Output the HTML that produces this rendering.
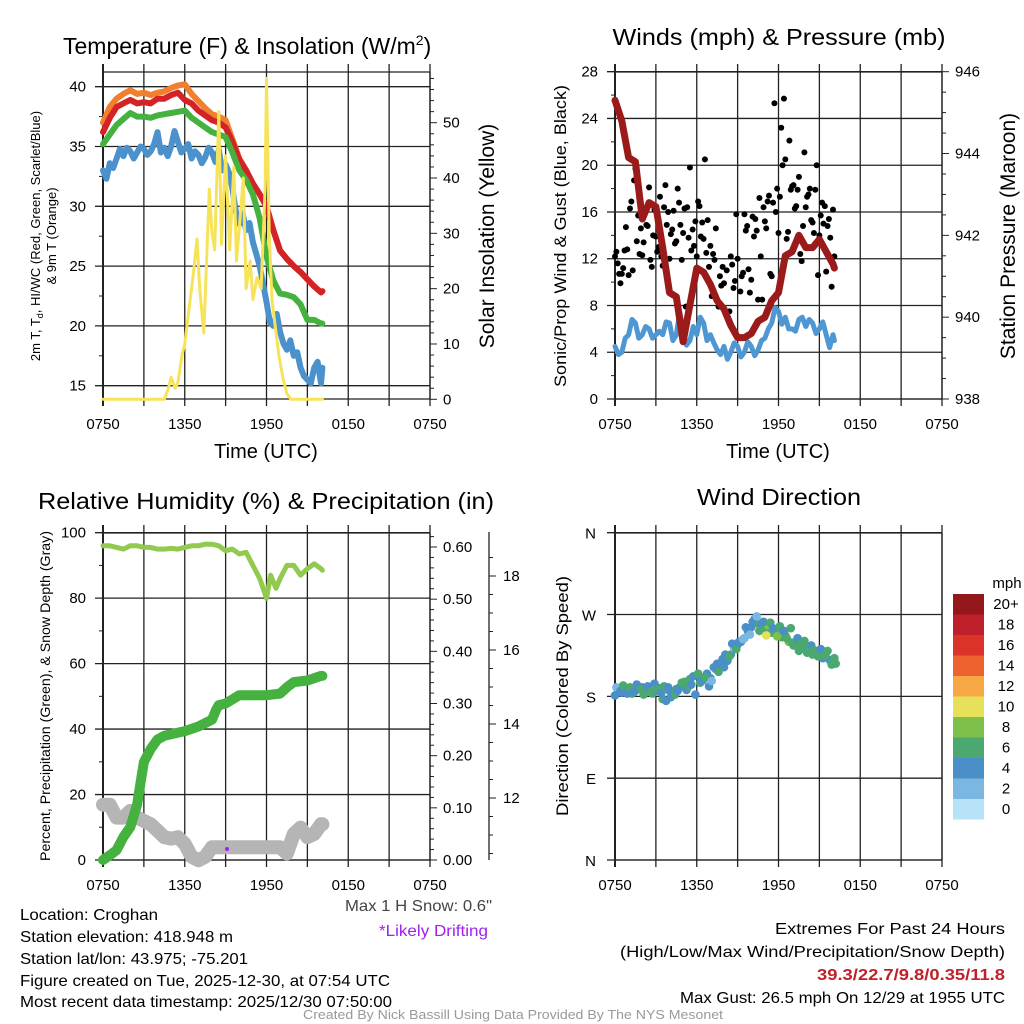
<!DOCTYPE html>
<html><head><meta charset="utf-8"><style>
html,body{margin:0;padding:0;background:#fff;}
svg{display:block;font-family:"Liberation Sans",Arial,sans-serif;}
</style></head><body>
<svg id="s" width="1024" height="1024" viewBox="0 0 1024 1024">
<rect width="1024" height="1024" fill="#fff"/>
</svg>
<script>
// ---------- DATA ----------
const xTickLabels = ['0750','1350','1950','0150','0750'];
// Temperature panel
const tempHours = [0,0.5,1,1.5,2,2.5,3,3.5,4,4.5,5,5.5,6,6.5,7,7.5,8,8.5,9,9.5,10,10.5,11,11.5,12,12.5,13,13.5,14,14.5,15,15.5,16,16.1];
const temp2m = [36.2,37.4,38.3,38.6,38.9,38.6,38.7,38.6,39.0,39.0,39.3,39.5,38.9,38.6,38.0,37.6,37.2,37.0,36.6,35.4,33.9,33.0,31.9,31.0,30.0,28.0,26.3,25.6,25.0,24.5,23.9,23.3,22.8,22.9];
const temp9m = [37.0,38.3,39.0,39.4,39.7,39.4,39.5,39.3,39.5,39.6,39.9,40.1,40.2,39.4,38.8,38.2,37.7,37.5,37.2,35.6,34.0,33.0,31.9,31.0,30.0,28.0,26.3,25.6,25.0,24.5,23.9,23.3,22.8,22.9];
const tempHiWc = [35.2,36.0,36.8,37.3,37.8,37.5,37.5,37.4,37.6,37.7,37.8,37.9,38.0,37.4,37.0,36.6,36.2,36.0,35.8,34.5,33.0,32.2,31.0,29.0,25.8,23.8,22.7,22.6,22.4,21.8,20.5,20.5,20.2,20.2];
const dewHours = [0,0.25,0.5,0.75,1,1.25,1.5,1.75,2,2.25,2.5,2.75,3,3.25,3.5,3.75,4,4.25,4.5,4.75,5,5.25,5.5,5.75,6,6.25,6.5,6.75,7,7.25,7.5,7.75,8,8.25,8.5,8.75,9,9.25,9.5,9.75,10,10.25,10.5,10.75,11,11.25,11.5,11.75,12,12.25,12.5,12.75,13,13.25,13.5,13.75,14,14.25,14.5,14.75,15,15.25,15.5,15.75,16,16.1];
const dewVals = [33.0,32.3,33.6,33.2,34.0,34.8,34.2,34.9,34.6,34.0,34.5,35.0,34.8,34.3,34.6,35.2,36.2,34.5,34.9,34.2,35.0,36.3,35.4,34.5,34.8,35.2,34.0,34.6,34.3,33.6,34.1,34.9,34.5,33.7,34.7,33.0,33.5,32.8,31.5,29.6,28.5,29.4,28.0,28.6,27.0,26.0,25.0,23.5,22.0,20.3,20.0,21.0,19.5,18.5,18.0,18.8,17.5,17.8,16.5,15.8,15.5,15.2,16.5,17.0,15.2,16.5];
const solarHours = [0,4.5,4.8,5.0,5.3,5.5,5.8,6.0,6.3,6.6,6.9,7.1,7.4,7.6,7.8,8.0,8.2,8.5,8.7,9.0,9.3,9.6,9.8,10.0,10.3,10.5,10.8,11.0,11.3,11.6,11.9,12.0,12.2,12.4,12.6,12.9,13.2,13.5,13.8,16.1];
const solarVals = [0,0,2,4,2,3,8,10,16,22,29,20,12,25,38,30,27,52,28,44,27,42,25,31,40,20,25,18,22,20,38,58,30,18,14,8,4,1,0,0];
// Wind panel
const windHours = [0,0.25,0.5,0.75,1,1.25,1.5,1.75,2,2.25,2.5,2.75,3,3.25,3.5,3.75,4,4.25,4.5,4.75,5,5.25,5.5,5.75,6,6.25,6.5,6.75,7,7.25,7.5,7.75,8,8.25,8.5,8.75,9,9.25,9.5,9.75,10,10.25,10.5,10.75,11,11.25,11.5,11.75,12,12.25,12.5,12.75,13,13.25,13.5,13.75,14,14.25,14.5,14.75,15,15.25,15.5,15.75,16,16.1];
const windSpeed = [4.5,3.8,4.0,5.2,5.5,6.8,6.5,5.2,5.5,6.2,6.0,5.2,5.5,5.8,5.5,6.6,6.5,5.0,5.5,7.4,6.0,4.6,5.0,6.2,5.5,7.0,6.5,5.0,5.5,4.8,4.2,3.8,4.5,3.4,4.0,4.8,4.5,3.6,4.0,4.9,4.5,3.7,4.2,5.0,5.2,6.0,6.5,7.8,7.5,6.4,7.0,6.0,6.0,5.8,6.8,7.0,6.2,6.8,6.5,5.6,6.0,6.6,5.5,4.4,5.5,5.0];
const pressHours = [0,0.5,1,1.5,2,2.5,3,3.5,4,4.5,5,5.5,6,6.5,7,7.5,8,8.5,9,9.5,10,10.5,11,11.5,12,12.5,13,13.5,14,14.5,15,15.5,16,16.1];
const pressVals = [945.3,944.8,943.9,943.8,942.4,942.8,942.7,941.7,940.6,940.5,939.4,940.3,941.2,941.1,940.8,940.4,940.2,939.8,939.5,939.5,939.6,939.9,940.0,940.4,940.6,941.5,941.6,942.0,941.7,941.7,941.9,941.6,941.3,941.2];
const gustHours = [0.0,0.1,0.2,0.3,0.4,0.5,0.6,0.7,0.8,0.9,1.0,1.1,1.2,1.3,1.4,1.5,1.6,1.7,1.8,1.9,2.0,2.1,2.2,2.3,2.4,2.5,2.6,2.7,2.8,2.9,3.0,3.1,3.2,3.3,3.4,3.5,3.6,3.7,3.8,3.9,4.0,4.1,4.2,4.3,4.4,4.5,4.6,4.7,4.8,4.9,5.0,5.1,5.2,5.3,5.4,5.5,5.6,5.7,5.8,5.9,6.0,6.1,6.2,6.3,6.4,6.5,6.6,6.7,6.8,6.9,7.0,7.1,7.2,7.3,7.4,7.5,7.6,7.7,7.8,7.9,8.0,8.2,8.4,8.5,8.6,8.7,8.8,8.9,9.0,9.2,9.3,9.4,9.5,9.6,9.7,9.8,9.9,10.0,10.1,10.2,10.3,10.4,10.5,10.6,10.7,10.8,10.9,11.0,11.1,11.2,11.3,11.4,11.5,11.6,11.7,11.8,11.9,12.0,12.1,12.2,12.3,12.4,12.5,12.6,12.7,12.8,12.9,13.0,13.1,13.2,13.3,13.4,13.5,13.6,13.7,13.8,13.9,14.0,14.1,14.2,14.3,14.4,14.5,14.6,14.7,14.8,14.9,15.0,15.1,15.2,15.3,15.4,15.5,15.6,15.7,15.8,15.9,16.0,16.1];
const gustVals = [12.2,12.6,11.6,10.7,9.9,10.7,11.2,12.7,14.7,12.8,10.6,16.3,16.9,11.0,18.7,19.7,13.5,15.7,12.4,14.6,12.3,13.4,16.3,14.9,14.8,18.1,11.9,11.3,14.0,16.2,13.9,12.6,13.0,17.3,12.2,11.4,16.4,18.3,14.9,16.0,12.0,14.1,14.5,16.1,13.3,13.5,18.0,16.8,14.9,11.9,14.2,16.3,7.9,16.4,13.8,19.8,12.7,14.5,13.1,15.2,12.2,16.9,16.5,13.9,15.1,13.7,20.5,12.5,15.3,11.3,13.1,8.8,12.4,11.9,14.6,8.5,7.9,10.5,9.7,11.3,9.9,11.0,7.5,12.2,11.5,9.5,10.1,15.8,12.0,9.2,10.5,10.8,15.8,14.4,14.8,11.1,9.1,10.2,15.6,13.9,15.4,14.4,8.5,17.2,12.2,8.5,16.4,15.2,14.6,16.9,17.4,10.7,10.5,16.8,25.3,16.0,18.0,14.2,17.3,23.2,20.0,25.7,20.5,13.7,14.3,22.1,17.9,18.2,18.3,16.3,16.5,17.9,19.0,12.4,11.8,14.8,21.1,16.4,17.3,17.5,18.0,15.3,15.1,14.2,17.9,20.0,10.6,14.0,15.7,16.8,15.0,16.5,10.9,14.8,15.4,13.8,9.6,16.2,12.2];
// RH / precip / snow panel
const rhHours = [0,0.5,1,1.5,2,2.5,3,3.5,4,4.5,5,5.5,6,6.5,7,7.5,8,8.5,9,9.5,10,10.5,11,11.5,12,12.3,12.7,13,13.5,14,14.5,15,15.5,16,16.1];
const rhVals = [96,96,95.5,95,96,96,95.5,95.5,95,95,95.2,95,95.5,96,96,96.5,96.5,96,94.5,95,93.5,94,90,86,80,87,83,86,90,90,87,89,90.5,89,88.5];
const precipHours = [0,0.5,1,1.5,2,2.5,2.8,3,3.5,4,4.5,5,6,7,8,8.3,8.5,9,10,11,12,13,13.5,14,15,16,16.1];
const precipVals = [0,0.009,0.019,0.044,0.063,0.106,0.156,0.188,0.213,0.231,0.238,0.241,0.247,0.256,0.269,0.288,0.297,0.300,0.316,0.316,0.316,0.319,0.331,0.341,0.344,0.353,0.353];
const snowHours = [0,0.5,1,1.5,2,2.5,3,3.5,4,4.5,5,5.5,6,6.5,7,7.5,8,9,10,11,12,13,13.5,14,14.5,15,15.5,16,16.1];
const snowVals = [11.82,11.82,11.47,11.47,11.65,11.47,11.38,11.29,11.12,10.94,10.90,10.94,10.76,10.41,10.32,10.41,10.67,10.67,10.67,10.67,10.67,10.67,10.50,11.03,11.20,10.94,11.03,11.29,11.29];
const driftHours = [9.1];
const driftVals = [10.62];
// Wind direction panel
const dirHours = [0,0.25,0.5,0.75,1,1.25,1.5,1.75,2,2.25,2.5,2.75,3,3.25,3.5,3.75,4,4.25,4.5,4.75,5,5.25,5.5,5.75,6,6.25,6.5,6.75,7,7.25,7.5,7.75,8,8.25,8.5,8.75,9,9.25,9.5,9.75,10,10.25,10.5,10.75,11,11.25,11.5,11.75,12,12.25,12.5,12.75,13,13.25,13.5,13.75,14,14.25,14.5,14.75,15,15.25,15.5,15.75,16,16.2,
 0.1,0.4,0.6,0.9,1.1,1.4,1.6,1.9,2.1,2.4,2.6,2.9,3.1,3.4,3.6,3.9,4.1,4.4,4.6,4.9,5.1,5.4,5.6,5.9,6.1,6.4,6.6,6.9,7.1,7.4,7.6,7.9,8.1,8.4,8.6,8.9,9.1,9.4,9.6,9.9,10.1,10.4,10.6,10.9,11.1,11.4,11.6,11.9,12.1,12.4,12.6,12.9,13.1,13.4,13.6,13.9,14.1,14.4,14.6,14.9,15.1,15.4,15.6,15.9,16.1];
const dirVals = [181,185,184,187,188,183,186,189,190,186,187,183,186,189,177,175,186,184,188,190,194,187,199,202,203,195,199,205,200,212,216,214,212,219,226,233,237,240,244,252,256,265,260,258,255,258,250,253,250,245,247,240,239,236,230,234,233,230,226,229,227,222,228,220,218,216,
 190,186,192,183,190,185,193,188,182,191,185,194,188,184,191,190,179,182,186,195,196,191,193,182,205,197,201,191,197,210,207,221,226,224,238,232,240,243,256,248,262,268,252,262,247,261,255,246,257,252,244,255,236,244,238,241,228,236,231,224,232,225,230,215,222];
const dirSpeed = [4.5,4.2,5.5,6.5,5.5,6.2,5.6,6.5,4.8,6.1,5.4,6.3,4.6,5.2,6.4,4.4,5.5,4.7,6.6,5.8,7.2,5.6,6.3,5.3,4.5,6.8,6.1,4.7,5.3,4.5,4.3,4.8,4.2,4.6,4.4,3.8,4.1,4.5,3.5,4.4,5.1,4.8,6.2,4.6,6.5,9.5,7.2,6.4,6.8,7.5,6.3,8.2,6.2,6.8,6.5,7.1,6.2,6.9,6.4,6.1,6.7,4.5,6.3,4.9,6.6,6.2,
 3.5,5.2,6.3,4.6,6.6,5.3,4.4,6.5,6.1,4.8,6.2,4.3,6.7,4.5,6.4,5.5,4.9,6.2,5.1,6.6,7.5,6.1,4.6,4.4,6.3,4.8,6.5,4.2,3.5,4.7,6.6,4.4,4.5,6.2,4.1,6.5,4.7,3.3,4.5,2.5,4.4,3.1,6.7,4.5,10.2,6.6,4.9,8.5,6.3,4.6,6.5,6.4,7.1,4.6,6.8,6.3,6.5,4.4,6.9,6.2,4.5,6.4,6.6,6.3,6.7];
const speedBinLabels = ['20+','18','16','14','12','10','8','6','4','2','0'];
const speedBinColors = ['#94171b','#bf1e2b','#dc3328','#ee6230','#f5a843','#e6e05a','#7dc04a','#4aa870','#4a8fc7','#7ab8e2','#b6e3f7'];
const dirTickLabels = ['N','E','S','W','N'];

// ---------- HELPERS ----------
const NS='http://www.w3.org/2000/svg';
const svg=document.getElementById('s');
function mk(tag, attrs, parent, name){
  const el=document.createElementNS(NS,tag);
  for(const k in attrs) el.setAttribute(k,attrs[k]);
  
  
  (parent||svg).appendChild(el);
  return el;
}
function txt(s,x,y,size,anchor,parent,name,extra){
  const a=Object.assign({x:x,y:y,'font-size':size,'text-anchor':anchor||'middle',fill:'#000'},extra||{});
  if(a.textLength) a.lengthAdjust='spacingAndGlyphs';
  const t=mk('text',a,parent,name);
  t.textContent=s;
  return t;
}
function grp(name){return mk('g',{},svg,name);}
function scale(d0,d1,r0,r1){return v=>r0+(v-d0)/(d1-d0)*(r1-r0);}
function path(xs,ys,sx,sy,attrs,parent,name){
  let d='';
  for(let i=0;i<xs.length;i++){d+=(i?'L':'M')+sx(xs[i]).toFixed(1)+','+sy(ys[i]).toFixed(1);}
  return mk('path',Object.assign({d:d,fill:'none','stroke-linejoin':'round','stroke-linecap':'round'},attrs),parent,name);
}
function timePanel(x0,y0,x1,y1,g,hy){
  for(let i=0;i<=8;i++){
    const x=x0+(x1-x0)*i/8;
    mk('line',{x1:x,y1:y0-8,x2:x,y2:y1+7,stroke:'#222','stroke-width':i==0?2:1.3},g,'time-gridline');
  }
  hy.forEach(y=>{mk('line',{x1:x0-8,y1:y,x2:x1,y2:y,stroke:'#222','stroke-width':1.3},g,'value-gridline');});
  mk('line',{x1:x0,y1:y0,x2:x1,y2:y0,stroke:'#222','stroke-width':1.3},g,'plot-top-border');
  mk('line',{x1:x0,y1:y1,x2:x1,y2:y1,stroke:'#222','stroke-width':1.3},g,'plot-bottom-border');
  mk('line',{x1:x1,y1:y0,x2:x1,y2:y1,stroke:'#222','stroke-width':1.3},g,'plot-right-border');
  for(let i=0;i<xTickLabels.length;i++){
    txt(xTickLabels[i],x0+(x1-x0)*i/4,y1+30,15,'middle',g,'x-tick-label');
  }
}
function rightAxis(x,sy,d0,d1,minorStep,majorStep,fmt,g,lblX){
  for(let v=d0; v<=d1+1e-9; v+=minorStep){
    const major=Math.abs(v/majorStep-Math.round(v/majorStep))<1e-6;
    mk('line',{x1:x,y1:sy(v),x2:x+(major?7:4),y2:sy(v),stroke:'#222','stroke-width':1},g,major?'right-major-tick':'right-minor-tick');
    if(major) txt(fmt(v),lblX,sy(v)+5,15,'start',g,'right-tick-label');
  }
}

// ---------- TITLES ----------
const tg=grp('titles');
txt('Temperature (F) & Insolation (W/m',63,54,23,'start',tg,'temperature-title').innerHTML='Temperature (F) &amp; Insolation (W/m<tspan dy="-9" font-size="14">2</tspan><tspan dy="9">)</tspan>';
txt('Winds (mph) & Pressure (mb)',779,45,23,'middle',tg,'winds-title',{textLength:333});
txt('Relative Humidity (%) & Precipitation (in)',266,509,23,'middle',tg,'humidity-title',{textLength:456});
txt('Wind Direction',779,505,23,'middle',tg,'wind-direction-title',{textLength:164});

// ---------- PANEL 1: TEMPERATURE ----------
(function(){
  const g=grp('temperature-panel');
  const X0=103,X1=430,Y0=72,Y1=399;
  const sx=scale(0,24,X0,X1);
  const sy=scale(15,40,385.7,86.7);
  const sr=scale(0,50,399.3,122.7);
  timePanel(X0,Y0,X1,Y1,g,[15,20,25,30,35,40].map(sy));
  [15,20,25,30,35,40].forEach(v=>txt(String(v),86,sy(v)+5,15,'end',g,'left-tick-label'));
  for(let v=17.5;v<=41;v+=5) mk('line',{x1:X0-4,y1:sy(v),x2:X0,y2:sy(v),stroke:'#222'},g,'left-minor-tick');
  rightAxis(X1,sr,0,58,2,10,v=>String(v),g,443);
  path(tempHours,temp9m,sx,sy,{stroke:'#f07f2e','stroke-width':6},g,'temp-9m-line');
  path(tempHours,temp2m,sx,sy,{stroke:'#d42327','stroke-width':6},g,'temp-2m-line');
  path(tempHours,tempHiWc,sx,sy,{stroke:'#45b13e','stroke-width':6},g,'heat-index-windchill-line');
  path(dewHours,dewVals,sx,sy,{stroke:'#4b91cc','stroke-width':6},g,'dewpoint-line');
  path(solarHours,solarVals,sx,sr,{stroke:'#f7e35a','stroke-width':3},g,'solar-insolation-line');
  txt('Time (UTC)',266,458,20,'middle',g,'x-axis-title');
  const t1=txt('2m T, T',0,0,13,'middle',g,'left-axis-title',{transform:'translate(40,236) rotate(-90)'});
  t1.innerHTML='2m T, T<tspan dy="3" font-size="9">d</tspan><tspan dy="-3">, HI/WC (Red, Green, Scarlet/Blue)</tspan>';
  txt('& 9m T (Orange)',0,0,13,'middle',g,'left-axis-title-line2',{transform:'translate(56,236) rotate(-90)'});
  txt('Solar Insolation (Yellow)',0,0,21,'middle',g,'right-axis-title',{transform:'translate(494,236) rotate(-90)'});
})();

// ---------- PANEL 2: WINDS ----------
(function(){
  const g=grp('winds-panel');
  const X0=615,X1=942,Y0=72,Y1=399;
  const sx=scale(0,24,X0,X1);
  const sy=scale(0,28,399,71.7);
  const sp=scale(938,946,399,71.7);
  timePanel(X0,Y0,X1,Y1,g,[0,4,8,12,16,20,24,28].map(sy));
  [0,4,8,12,16,20,24,28].forEach(v=>txt(String(v),598,sy(v)+5,15,'end',g,'left-tick-label'));
  for(let v=2;v<28;v+=4) mk('line',{x1:X0-4,y1:sy(v),x2:X0,y2:sy(v),stroke:'#222'},g,'left-minor-tick');
  rightAxis(X1,sp,938,946,0.5,2,v=>String(v),g,955);
  path(windHours,windSpeed,sx,sy,{stroke:'#4f97d2','stroke-width':5},g,'wind-speed-line');
  for(let i=0;i<gustHours.length;i++){
    mk('circle',{cx:sx(gustHours[i]),cy:sy(gustVals[i]),r:3,fill:'#000'},g,'gust-point');
  }
  path(pressHours,pressVals,sx,sp,{stroke:'#9b1b1b','stroke-width':7},g,'pressure-line');
  txt('Time (UTC)',778,458,20,'middle',g,'x-axis-title');
  txt('Sonic/Prop Wind & Gust (Blue, Black)',0,0,17,'middle',g,'left-axis-title',{transform:'translate(566,236) rotate(-90)',textLength:302});
  txt('Station Pressure (Maroon)',0,0,21,'middle',g,'right-axis-title',{transform:'translate(1015,236) rotate(-90)'});
})();

// ---------- PANEL 3: RH / PRECIP ----------
(function(){
  const g=grp('humidity-panel');
  const X0=103,X1=430,Y0=533,Y1=860;
  const sx=scale(0,24,X0,X1);
  const sy=scale(0,100,860,532.7);
  const sp=scale(0,0.6,860,547);
  const ss=scale(12,18,798,576);
  timePanel(X0,Y0,X1,Y1,g,[0,20,40,60,80,100].map(sy));
  [0,20,40,60,80,100].forEach(v=>txt(String(v),86,sy(v)+5,15,'end',g,'left-tick-label'));
  for(let v=10;v<100;v+=20) mk('line',{x1:X0-4,y1:sy(v),x2:X0,y2:sy(v),stroke:'#222'},g,'left-minor-tick');
  rightAxis(X1,sp,0,0.62,0.02,0.1,v=>v.toFixed(2),g,443);
  mk('line',{x1:489,y1:532,x2:489,y2:860,stroke:'#222','stroke-width':1.3},g,'snow-axis-line');
  for(let v=10.5;v<=18.7;v+=0.5){
    const major=Math.abs(v-Math.round(v))<1e-6 && Math.round(v)%2==0;
    mk('line',{x1:489,y1:ss(v),x2:489+(major?7:4),y2:ss(v),stroke:'#222'},g,'snow-axis-tick');
    if(major) txt(String(Math.round(v)),503,ss(v)+5,15,'start',g,'snow-tick-label');
  }
  path(snowHours,snowVals,sx,ss,{stroke:'#b5b5b5','stroke-width':14},g,'snow-depth-line');
  path(precipHours,precipVals,sx,sp,{stroke:'#45b13e','stroke-width':10},g,'precipitation-line');
  path(rhHours,rhVals,sx,sy,{stroke:'#92c94f','stroke-width':5},g,'relative-humidity-line');
  for(let i=0;i<driftHours.length;i++) mk('circle',{cx:sx(driftHours[i]),cy:ss(driftVals[i]),r:2,fill:'#a020f0'},g,'drifting-marker');
  txt('Percent, Precipitation (Green), & Snow Depth (Gray)',0,0,14,'middle',g,'left-axis-title',{transform:'translate(50,696) rotate(-90)',textLength:330});
})();

// ---------- PANEL 4: WIND DIRECTION ----------
(function(){
  const g=grp('wind-direction-panel');
  const X0=615,X1=942,Y0=533,Y1=860;
  const sx=scale(0,24,X0,X1);
  const sy=scale(0,360,860,532.7);
  timePanel(X0,Y0,X1,Y1,g,[0,90,180,270,360].map(sy));
  dirTickLabels.forEach((l,i)=>txt(l,596,sy(i*90)+6,15,'end',g,'direction-tick-label'));
  function col(s){const k=Math.min(10,Math.floor(s/2));return speedBinColors[10-k];}
  for(let i=0;i<dirHours.length;i++){
    mk('circle',{cx:sx(dirHours[i]),cy:sy(dirVals[i]),r:4.3,fill:col(dirSpeed[i])},g,'direction-point');
  }
  txt('Direction (Colored By Speed)',0,0,17,'middle',g,'left-axis-title',{transform:'translate(568,696) rotate(-90)',textLength:240});
  const lg=mk('g',{},g,'speed-colorbar');
  txt('mph',1007,588,15,'middle',lg,'colorbar-title');
  const bh=20.5;
  speedBinColors.forEach((c,i)=>{
    mk('rect',{x:953,y:594+i*bh,width:31,height:bh,fill:c},lg,'colorbar-box');
    txt(speedBinLabels[i],1006,594+i*bh+15,15,'middle',lg,'colorbar-label');
  });
})();

// ---------- FOOTER ----------
const fg=grp('footer');
txt('Location: Croghan',20,920,16,'start',fg,'location-text',{textLength:138});
txt('Station elevation: 418.948 m',20,942,16,'start',fg,'elevation-text',{textLength:213});
txt('Station lat/lon: 43.975; -75.201',20,964,16,'start',fg,'latlon-text',{textLength:228});
txt('Figure created on Tue, 2025-12-30, at 07:54 UTC',20,986,16,'start',fg,'created-text',{textLength:370});
txt('Most recent data timestamp: 2025/12/30 07:50:00',20,1007,16,'start',fg,'timestamp-text',{textLength:372});
txt('Max 1 H Snow: 0.6"',492,911,16,'end',fg,'max-snow-text',{fill:'#444',textLength:147});
txt('*Likely Drifting',488,936,16,'end',fg,'drifting-note',{fill:'#a020f0',textLength:109});
txt('Extremes For Past 24 Hours',1005,934,16,'end',fg,'extremes-title',{textLength:230});
txt('(High/Low/Max Wind/Precipitation/Snow Depth)',1005,957,16,'end',fg,'extremes-legend',{textLength:385});
txt('39.3/22.7/9.8/0.35/11.8',1005,980,16,'end',fg,'extremes-values',{fill:'#c0202a','font-weight':'bold',textLength:188});
txt('Max Gust: 26.5 mph On 12/29 at 1955 UTC',1005,1003,16,'end',fg,'max-gust-text',{textLength:325});
txt('Created By Nick Bassill Using Data Provided By The NYS Mesonet',513,1019,12.5,'middle',fg,'credit-text',{fill:'#999',textLength:420});
</script>
</body></html>
